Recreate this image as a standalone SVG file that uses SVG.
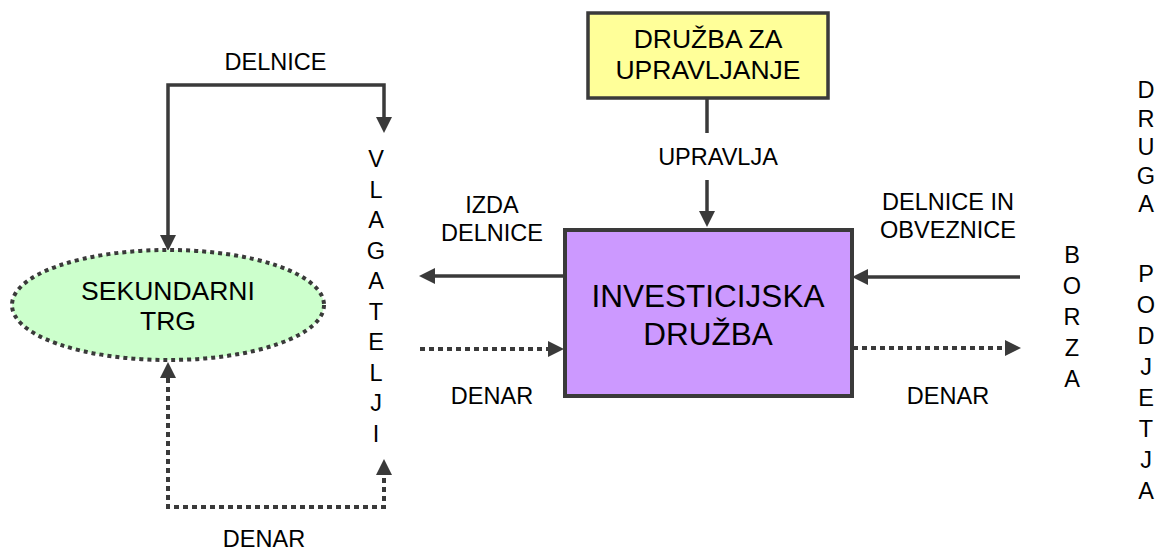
<svg xmlns="http://www.w3.org/2000/svg" width="1157" height="550" viewBox="0 0 1157 550">
<defs>
<marker id="ah" markerUnits="userSpaceOnUse" markerWidth="16" markerHeight="16" viewBox="0 0 15 15" refX="0" refY="7.5" orient="auto-start-reverse">
<path d="M0,0 L15,7.5 L0,15 Z" fill="#3a3a3a"/>
</marker>
</defs>
<style>
text{font-family:"Liberation Sans",Arial,sans-serif;fill:#000;text-anchor:middle}
.s{font-size:23.5px}
.m{font-size:26.5px}
.l{font-size:31.5px}
.v{font-size:23.5px}
.solid{fill:none;stroke:#3a3a3a;stroke-width:3.5}
.dot{fill:none;stroke:#3a3a3a;stroke-width:4;stroke-dasharray:5 4}
</style>
<rect width="1157" height="550" fill="#fff"/>
<g id="connectors">
<path class="solid" d="M168,235 V85 H384 V117" marker-start="url(#ah)" marker-end="url(#ah)"/>
<path class="dot" d="M168,378 V507 H384 V475" marker-start="url(#ah)" marker-end="url(#ah)"/>
<line class="solid" x1="707" y1="98" x2="707" y2="133"/>
<line class="solid" x1="707" y1="180" x2="707" y2="211" marker-end="url(#ah)"/>
<line class="solid" x1="563" y1="276" x2="435" y2="276" marker-end="url(#ah)"/>
<line class="dot" x1="420" y1="349" x2="548" y2="349" marker-end="url(#ah)"/>
<line class="solid" x1="1020" y1="277" x2="868" y2="277" marker-end="url(#ah)"/>
<line class="dot" x1="853" y1="348" x2="1005" y2="348" marker-end="url(#ah)"/>
<text class="s" x="275.5" y="70">DELNICE</text>
<text class="s" x="264" y="547">DENAR</text>
<text class="s" x="718" y="165">UPRAVLJA</text>
<text class="s" x="492" y="213">IZDA</text>
<text class="s" x="492" y="241">DELNICE</text>
<text class="s" x="492" y="404">DENAR</text>
<text class="s" x="948" y="210">DELNICE IN</text>
<text class="s" x="948" y="238">OBVEZNICE</text>
<text class="s" x="948" y="404">DENAR</text>
</g>
<g id="sekundarni-trg">
<ellipse cx="168" cy="305" rx="156" ry="55" fill="#ccffcc" stroke="#3a3a3a" stroke-width="4" stroke-dasharray="4 4"/>
<text class="m" x="168" y="300">SEKUNDARNI</text>
<text class="m" x="168" y="330">TRG</text>
</g>
<g id="druzba-za-upravljanje">
<rect x="588" y="13" width="240" height="85" fill="#ffff99" stroke="#3a3a3a" stroke-width="3.5"/>
<text class="m" x="708" y="48">DRUŽBA ZA</text>
<text class="m" x="708" y="79">UPRAVLJANJE</text>
</g>
<g id="investicijska-druzba">
<rect x="565" y="230" width="287" height="166" fill="#cc99ff" stroke="#3a3a3a" stroke-width="4"/>
<text class="l" x="708" y="307">INVESTICIJSKA</text>
<text class="l" x="708" y="345">DRUŽBA</text>
</g>
<g id="vlagatelji">
<text class="v" x="376" y="167">V</text>
<text class="v" x="376" y="197.5">L</text>
<text class="v" x="376" y="228">A</text>
<text class="v" x="376" y="258.5">G</text>
<text class="v" x="376" y="289">A</text>
<text class="v" x="376" y="319.5">T</text>
<text class="v" x="376" y="350">E</text>
<text class="v" x="376" y="380.5">L</text>
<text class="v" x="376" y="411">J</text>
<text class="v" x="376" y="441.5">I</text>
</g>
<g id="borza">
<text class="v" x="1072" y="263">B</text>
<text class="v" x="1072" y="294">O</text>
<text class="v" x="1072" y="325">R</text>
<text class="v" x="1072" y="356">Z</text>
<text class="v" x="1072" y="387">A</text>
</g>
<g id="druga-podjetja">
<text class="v" x="1146" y="98">D</text>
<text class="v" x="1146" y="126.5">R</text>
<text class="v" x="1146" y="155">U</text>
<text class="v" x="1146" y="183.5">G</text>
<text class="v" x="1146" y="212">A</text>
<text class="v" x="1146" y="282">P</text>
<text class="v" x="1146" y="313">O</text>
<text class="v" x="1146" y="344">D</text>
<text class="v" x="1146" y="375">J</text>
<text class="v" x="1146" y="406">E</text>
<text class="v" x="1146" y="437">T</text>
<text class="v" x="1146" y="468">J</text>
<text class="v" x="1146" y="499">A</text>
</g>
</svg>
